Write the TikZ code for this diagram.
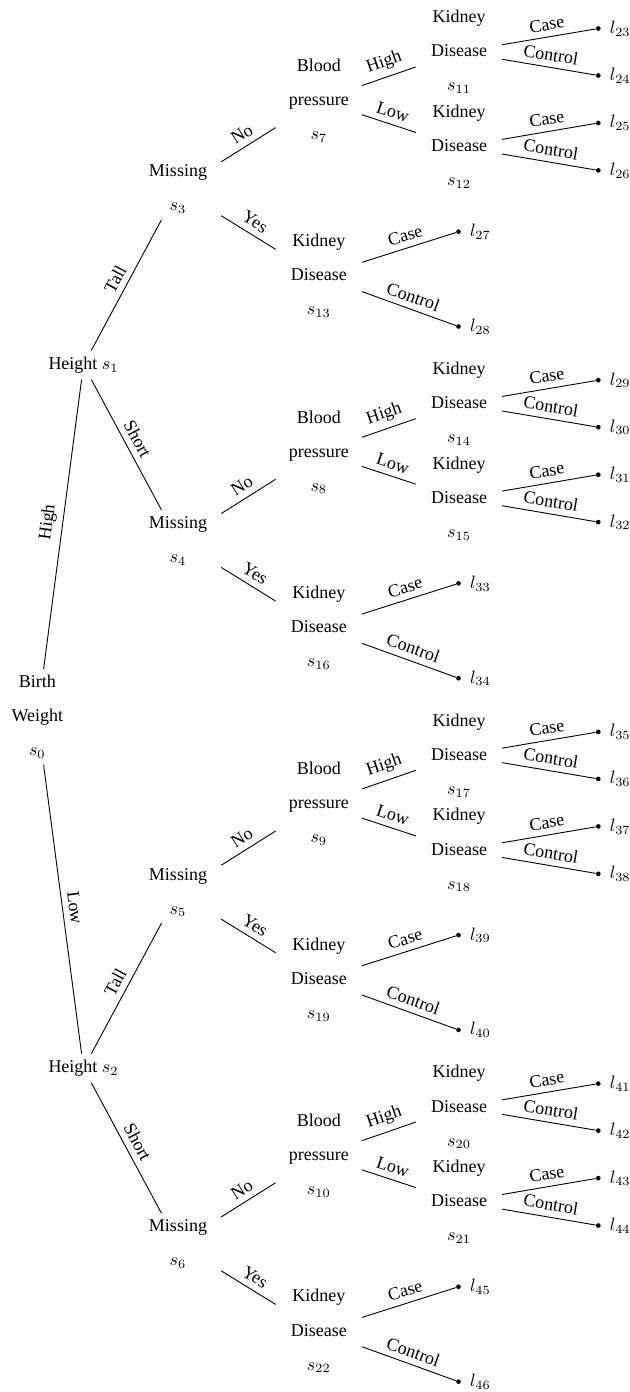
\documentclass[tikz,border=0pt]{standalone}
\usepackage[no-math]{fontspec}
\setmainfont{Liberation Serif}
\begin{document}
\begin{tikzpicture}[x=0.5556pt, y=-0.5556pt, line width=0.5pt,
  state/.style={rectangle, align=center, minimum width=47.5pt, inner sep=3.33pt,
    font=\fontsize{10}{18.9}\selectfont},
  leaf/.style={circle, fill=black, draw=none, inner sep=0pt, minimum size=2.6pt},
  branch/.style={midway, sloped, above, font=\fontsize{10}{12}\selectfont},
  label distance=1.3pt]
\useasboundingbox (0,0) rectangle (630,1392);

% root and the two height splits
\node[state] (s0) at (37.3,717) {Birth\\Weight\\$s_0$};
\node[state] (s1) at (83.5,365) {Height $s_1$};
\node[state] (s2) at (83.5,1068.2) {Height $s_2$};
\draw (s0) -- node[branch]{High} (s1);
\draw (s0) -- node[branch]{Low} (s2);

% four identical sub-trees below the "Missing" nodes
\foreach \k in {0,1,2,3} {
  \pgfmathsetmacro\M{189+351.7*\k}
  \pgfmathtruncatemacro\h{1+floor(\k/2)}
  \pgfmathtruncatemacro\ms{3+\k}
  \pgfmathtruncatemacro\bp{7+\k}
  \pgfmathtruncatemacro\ka{11+3*\k}
  \pgfmathtruncatemacro\kb{12+3*\k}
  \pgfmathtruncatemacro\kc{13+3*\k}
  \pgfmathtruncatemacro\la{23+6*\k}
  \pgfmathtruncatemacro\lb{24+6*\k}
  \pgfmathtruncatemacro\lc{25+6*\k}
  \pgfmathtruncatemacro\ld{26+6*\k}
  \pgfmathtruncatemacro\le{27+6*\k}
  \pgfmathtruncatemacro\lf{28+6*\k}

  \node[state] (s\ms) at (178,\M) {Missing\\$s_{\ms}$};
  \node[state] (s\bp) at (318.8,\M-88.5) {Blood\\pressure\\$s_{\bp}$};
  \node[state] (s\kc) at (318.8,\M+87) {Kidney\\Disease\\$s_{\kc}$};
  \node[state] (s\ka) at (459,\M-137) {Kidney\\Disease\\$s_{\ka}$};
  \node[state] (s\kb) at (459,\M-42.3) {Kidney\\Disease\\$s_{\kb}$};

  \node[leaf, label={right:$l_{\la}$}] (l\la) at (598.3,\M-160.5) {};
  \node[leaf, label={right:$l_{\lb}$}] (l\lb) at (598.3,\M-113.5) {};
  \node[leaf, label={right:$l_{\lc}$}] (l\lc) at (598.3,\M-66) {};
  \node[leaf, label={right:$l_{\ld}$}] (l\ld) at (598.3,\M-18.6) {};
  \node[leaf, label={right:$l_{\le}$}] (l\le) at (458.5,\M+42.7) {};
  \node[leaf, label={right:$l_{\lf}$}] (l\lf) at (458.5,\M+137.5) {};

  \draw (s\h) -- node[branch]{\ifodd\k Short\else Tall\fi} (s\ms);
  \draw (s\ms) -- node[branch]{No} (s\bp);
  \draw (s\ms) -- node[branch]{Yes} (s\kc);
  \draw (s\bp) -- node[branch]{High} (s\ka);
  \draw (s\bp) -- node[branch]{Low} (s\kb);
  \draw (s\ka) -- node[branch]{Case} (l\la);
  \draw (s\ka) -- node[branch]{Control} (l\lb);
  \draw (s\kb) -- node[branch]{Case} (l\lc);
  \draw (s\kb) -- node[branch]{Control} (l\ld);
  \draw (s\kc) -- node[branch]{Case} (l\le);
  \draw (s\kc) -- node[branch]{Control} (l\lf);
}
\end{tikzpicture}
\end{document}
